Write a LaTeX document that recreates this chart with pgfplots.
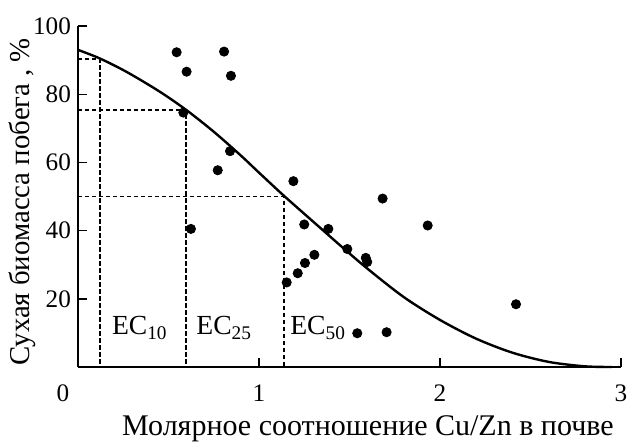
\documentclass[border=0pt]{standalone}
\usepackage{fontspec}
\setmainfont{Liberation Serif}
\usepackage{pgfplots}
\pgfplotsset{compat=1.18}
\begin{document}
\begin{tikzpicture}
\begin{axis}[
  scale only axis,
  width=271.5pt, height=170.5pt,
  xmin=0, xmax=3, ymin=0, ymax=100,
  axis x line*=bottom, axis y line*=left,
  axis line style={line width=0.8pt},
  xtick={1,2,3}, ytick={20,40,60,80,100},
  tick align=inside, major tick length=4.5pt,
  tick style={line width=0.7pt, black},
  /pgf/number format/assume math mode=true,
  tick label style={font=\fontsize{12.6}{14}\selectfont},
  xticklabel style={yshift=-5.5pt},
  xlabel={Молярное соотношение Cu/Zn в почве},
  ylabel={Сухая биомасса побега , \%},
  xlabel style={font=\fontsize{15}{17}\selectfont, at={(axis description cs:0.534,-0.202)}, anchor=base},
  ylabel style={font=\fontsize{14.4}{16}\selectfont, at={(axis description cs:-0.0884,0.484)}, anchor=base},
  clip=false,
]
% fitted curve
\addplot[black, line width=1.2pt, smooth] coordinates {
(0,93) (0.12,90.5) (0.27,86.5) (0.45,80.8) (0.6,75.3) (0.75,69) (0.9,62)
(1.0,57) (1.138,50.2) (1.3,42.6) (1.45,35.6) (1.6,28.8) (1.8,20.5) (2.0,13.8)
(2.2,8.3) (2.4,4.2) (2.6,1.5) (2.8,0.2) (2.95,0)
};
% EC dashed guides
\addplot[black, line width=0.8pt, dash pattern=on 2.2pt off 1.3pt] coordinates {(0,90.3) (0.12,90.3) (0.12,0)};
\addplot[black, line width=0.8pt, dash pattern=on 2.2pt off 1.3pt] coordinates {(0,75.3) (0.597,75.3) (0.597,0)};
\addplot[black, line width=0.8pt, dash pattern=on 2.2pt off 1.3pt] coordinates {(0,50) (1.138,50) (1.138,0)};
% observations
\addplot[only marks, mark=*, mark size=2.3pt, black] coordinates {
(0.545,92.3) (0.60,86.6) (0.807,92.5) (0.845,85.4) (0.582,74.6) (0.84,63.3)
(0.772,57.7) (1.19,54.5) (0.624,40.5) (1.25,41.8) (1.153,24.8) (1.214,27.5)
(1.254,30.5) (1.306,32.9) (1.683,49.4) (1.383,40.5) (1.932,41.5) (1.488,34.6)
(1.59,32.0) (1.598,30.8) (2.42,18.4) (1.543,9.9) (1.705,10.2)
};
\node[anchor=base west, inner sep=0pt, font=\fontsize{13.8}{16}\selectfont] at (axis cs:0.186,9.4) {EC\textsubscript{10}};
\node[anchor=base west, inner sep=0pt, font=\fontsize{13.8}{16}\selectfont] at (axis cs:0.652,9.4) {EC\textsubscript{25}};
\node[anchor=base west, inner sep=0pt, font=\fontsize{13.8}{16}\selectfont] at (axis cs:1.171,9.4) {EC\textsubscript{50}};
\node[font=\fontsize{12.6}{14}\selectfont, anchor=center] at ([xshift=-7.5pt, yshift=-13pt]rel axis cs:0,0) {0};
\end{axis}
\pgfresetboundingbox
\path (-39pt,-37pt) rectangle (275pt,183.5pt);
\end{tikzpicture}
\end{document}
